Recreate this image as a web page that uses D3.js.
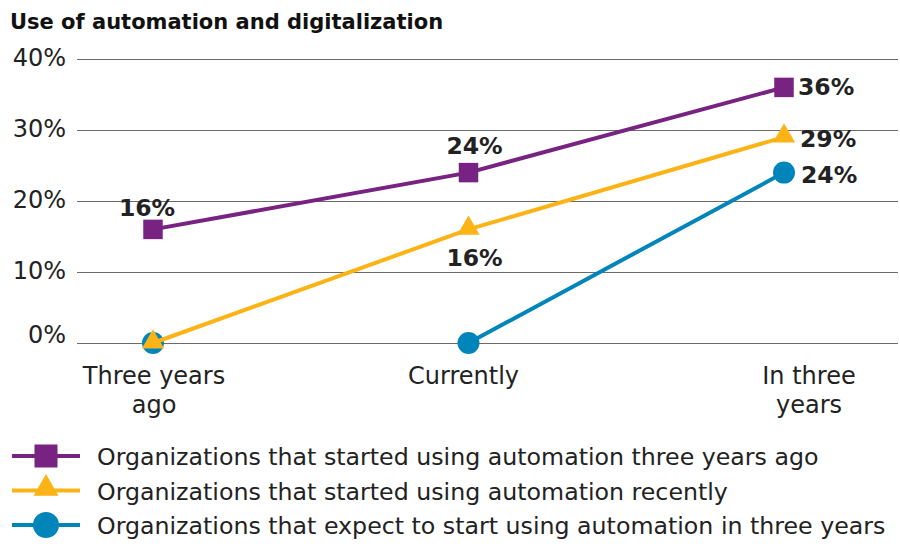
<!DOCTYPE html>
<html><head><meta charset="utf-8">
<script src="https://cdn.jsdelivr.net/npm/d3@7/dist/d3.min.js"></script>
<style>body{margin:0;background:#fff;}text{font-family:"DejaVu Sans",sans-serif;}</style>
</head><body><svg id="c" width="900" height="550"></svg>
<script>
const categories = ["Three years ago", "Currently", "In three years"];
const categoryLines = [["Three years","ago"],["Currently"],["In three","years"]];
const yTicks = [0, 10, 20, 30, 40];
const seriesNames = [
  "Organizations that started using automation three years ago",
  "Organizations that started using automation recently",
  "Organizations that expect to start using automation in three years"
];
const startedThreeYearsAgo = [16, 24, 36];
const startedRecently = [0, 16, 29];
const expectInThreeYears = [0, 0, 24];
const lineStartIndex = [0, 0, 1];
const colors = ["#782281", "#fbb316", "#0085ba"];
const title = "Use of automation and digitalization";

const FONT = "'DejaVu Sans',sans-serif";
const svg = d3.select("#c");
const x = d3.scalePoint().domain(categories).range([153, 784]);
const y = d3.scaleLinear().domain([0, 40]).range([343, 59]);

svg.append("text").attr("x", 10).attr("y", 29).attr("font-size", 21).attr("font-weight", "bold")
  .attr("fill", "#111").text(title);

// grid
const gridAxis = d3.axisLeft(y).tickValues(yTicks).tickSize(-821).tickFormat(d => d + "%").tickPadding(11);
const g = svg.append("g").attr("transform", "translate(77,0)").call(gridAxis);
g.select(".domain").remove();
g.selectAll(".tick line").attr("stroke", "#6b6b6b").attr("stroke-width", 1.2);
g.selectAll(".tick text").attr("font-size", 24).attr("fill", "#222")
  .attr("dy", d => d === 0 ? "-0.04em" : "0.29em")
  .attr("font-family", FONT);

// x labels
const xLabelShift = [1, -5, 25];
categories.forEach((c, i) => {
  const t = svg.append("text").attr("text-anchor", "middle").attr("font-size", 24).attr("fill", "#222");
  categoryLines[i].forEach((ln, j) => {
    t.append("tspan").attr("x", x(c) + xLabelShift[i]).attr("y", 384 + j * 29).text(ln);
  });
});

const series = [startedThreeYearsAgo, startedRecently, expectInThreeYears];
const line = d3.line().x(d => x(d.c)).y(d => y(d.v));
const shapes = [d3.symbolSquare, d3.symbolTriangle, d3.symbolCircle];
const sizes = [380, 215, 380];
const legendSizes = [530, 270, 530];

const order = [0, 2, 1];
order.forEach(si => {
  const data = categories.map((c, i) => ({c, v: series[si][i], i}));
  svg.append("path").datum(data.filter(d => d.i >= lineStartIndex[si])).attr("d", line).attr("fill", "none")
    .attr("stroke", colors[si]).attr("stroke-width", 4);
  svg.selectAll(null).data(data).enter().append("path")
    .attr("d", d3.symbol().type(shapes[si]).size(sizes[si]))
    .attr("transform", d => `translate(${x(d.c)},${y(d.v) - (si === 1 ? 1 : 0)})`)
    .attr("fill", colors[si]);
});

// data labels
const labels = [
  {s: 0, i: 0, dx: -6, dy: -13, anchor: "middle"},
  {s: 0, i: 1, dx: 6, dy: -19, anchor: "middle"},
  {s: 0, i: 2, dx: 14, dy: 8, anchor: "start"},
  {s: 1, i: 1, dx: 6, dy: 37, anchor: "middle"},
  {s: 1, i: 2, dx: 16, dy: 10, anchor: "start"},
  {s: 2, i: 2, dx: 17, dy: 10, anchor: "start"}
];
labels.forEach(l => {
  const v = series[l.s][l.i];
  svg.append("text").attr("x", x(categories[l.i]) + l.dx).attr("y", y(v) + l.dy)
    .attr("text-anchor", l.anchor).attr("font-size", 23.5).attr("font-weight", "bold").attr("fill", "#222")
    .text(v + "%");
});

// legend
seriesNames.forEach((n, si) => {
  const ly = 456 + si * 34.5;
  svg.append("line").attr("x1", 12).attr("x2", 80).attr("y1", ly).attr("y2", ly)
    .attr("stroke", colors[si]).attr("stroke-width", 4);
  svg.append("path").attr("d", d3.symbol().type(shapes[si]).size(legendSizes[si]))
    .attr("transform", `translate(46,${ly - (si === 1 ? 2 : 0)})`).attr("fill", colors[si]);
  svg.append("text").attr("x", 97).attr("y", ly + 9).attr("font-size", 23.7).attr("fill", "#222").text(n);
});
</script></body></html>
